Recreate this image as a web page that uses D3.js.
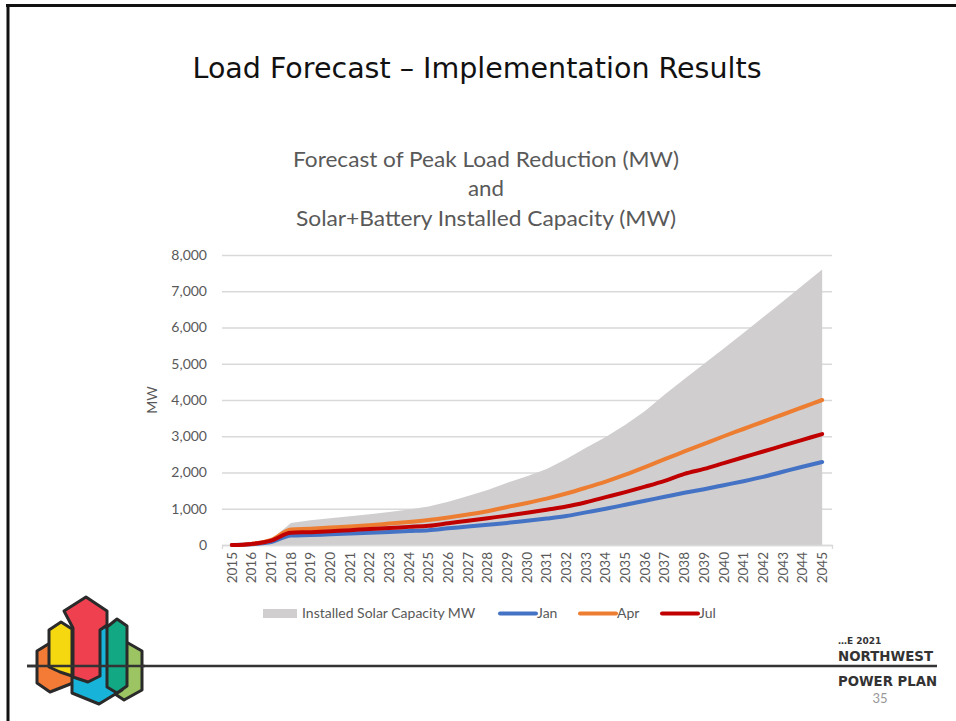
<!DOCTYPE html>
<html><head><meta charset="utf-8">
<script src="https://cdn.jsdelivr.net/npm/d3@7/dist/d3.min.js"></script>
<style>
html,body{margin:0;padding:0;background:#fff;}
svg{display:block;}
</style></head>
<body>
<svg id="c" width="956" height="721"></svg>
<script>
const years = d3.range(2015, 2046).map(String);
const solarCapacity = [0, 50, 150, 610, 680, 740, 790, 850, 910, 980, 1060, 1190, 1350, 1520, 1720, 1900, 2100, 2370, 2680, 2980, 3320, 3700, 4150, 4580, 5000, 5420, 5850, 6280, 6720, 7160, 7600];
const janValues = [0, 20, 80, 260, 275, 295, 315, 335, 360, 385, 410, 460, 510, 560, 610, 670, 730, 800, 900, 1000, 1110, 1220, 1330, 1440, 1540, 1650, 1760, 1880, 2020, 2160, 2290];
const aprValues = [0, 30, 140, 430, 450, 480, 510, 545, 590, 635, 690, 760, 840, 930, 1050, 1160, 1280, 1420, 1580, 1750, 1940, 2150, 2370, 2580, 2790, 3000, 3200, 3400, 3600, 3800, 4000];
const julValues = [0, 30, 120, 340, 355, 380, 410, 440, 470, 500, 530, 600, 670, 740, 810, 890, 975, 1060, 1180, 1320, 1460, 1610, 1770, 1960, 2100, 2260, 2420, 2580, 2740, 2900, 3060];
const yTicks = [0, 1000, 2000, 3000, 4000, 5000, 6000, 7000, 8000];
const seriesNames = ["Jan", "Apr", "Jul"];
const seriesColors = ["#4472c4", "#ed7d31", "#c00000"];
const slideTitle = "Load Forecast \u2013 Implementation Results";
const chartTitle = ["Forecast of Peak Load Reduction (MW)", "and", "Solar+Battery Installed Capacity (MW)"];

const svg = d3.select("#c");
const grey = "#595959";

// slide border
svg.append("line").attr("x1", 6).attr("x2", 956).attr("y1", 5.5).attr("y2", 5.5).attr("stroke", "#111").attr("stroke-width", 3);
svg.append("line").attr("x1", 8).attr("x2", 8).attr("y1", 4).attr("y2", 721).attr("stroke", "#111").attr("stroke-width", 3);

svg.append("text").attr("x", 477).attr("y", 78).attr("text-anchor", "middle")
  .attr("font-family", "DejaVu Sans").attr("font-size", 29).attr("fill", "#111")
  .attr("textLength", 569).attr("lengthAdjust", "spacingAndGlyphs").text(slideTitle);

const ctY = [167, 196, 226];
const ctW = [386, 36, 380];
chartTitle.forEach((t, i) => {
  svg.append("text").attr("x", 486).attr("y", ctY[i]).attr("text-anchor", "middle")
    .attr("font-family", "Lato, 'Open Sans', sans-serif").attr("font-size", 21).attr("fill", grey)
    .attr("textLength", ctW[i]).attr("lengthAdjust", "spacingAndGlyphs").text(t);
});

const x = d3.scaleBand().domain(years).range([222, 832]);
const y = d3.scaleLinear().domain([0, 8000]).range([545, 255]);
const cx = d => x(d) + x.bandwidth() / 2;

// gridlines
const yAxis = d3.axisLeft(y).tickValues(yTicks).tickFormat(d3.format(",")).tickSize(-(832 - 222)).tickPadding(15);
const ga = svg.append("g").attr("transform", "translate(222,0)").call(yAxis);
ga.select(".domain").remove();
ga.selectAll(".tick line").attr("stroke", "#d9d9d9").attr("stroke-width", 1.3);
ga.selectAll(".tick text").attr("fill", grey).attr("font-family", "Lato, sans-serif").attr("font-size", 14);

svg.append("text").attr("transform", "translate(157,400) rotate(-90)").attr("text-anchor", "middle")
  .attr("font-family", "Lato, sans-serif").attr("font-size", 14).attr("fill", grey).text("MW");

// area
const area = d3.area().x((d, i) => cx(years[i])).y0(y(0)).y1(d => y(d));
svg.append("path").datum(solarCapacity).attr("d", area).attr("fill", "#d0cece");

// x axis
const xAxis = d3.axisBottom(x).tickSize(4).tickPadding(4);
const gx = svg.append("g").attr("transform", "translate(0,545)").call(xAxis);
gx.select(".domain").attr("stroke", "#d9d9d9").attr("stroke-width", 1.3);
gx.selectAll(".tick line").remove();
gx.selectAll(".tick text").attr("fill", grey).attr("font-family", "Lato, sans-serif").attr("font-size", 13.5)
  .attr("transform", "rotate(-90)").attr("text-anchor", "end").attr("dy", "0.35em").attr("x", -7).attr("y", 0);

// lines
const line = d3.line().x((d, i) => cx(years[i])).y(d => y(d)).curve(d3.curveMonotoneX);
[janValues, aprValues, julValues].forEach((vals, i) => {
  svg.append("path").datum(vals).attr("d", line).attr("fill", "none")
    .attr("stroke", seriesColors[i]).attr("stroke-width", 4).attr("stroke-linecap", "round");
});

// legend
const lg = svg.append("g").attr("font-family", "Lato, sans-serif").attr("font-size", 14).attr("fill", grey);
lg.append("rect").attr("x", 263).attr("y", 609).attr("width", 34).attr("height", 9).attr("fill", "#d0cece");
lg.append("text").attr("x", 302).attr("y", 618).text("Installed Solar Capacity MW");
const lx = [500, 580, 662];
seriesNames.forEach((n, i) => {
  lg.append("line").attr("x1", lx[i]).attr("x2", lx[i] + 36).attr("y1", 613.5).attr("y2", 613.5)
    .attr("stroke", seriesColors[i]).attr("stroke-width", 4).attr("stroke-linecap", "round");
  lg.append("text").attr("x", lx[i] + 37).attr("y", 618).text(n);
});

// footer line
svg.append("line").attr("x1", 27).attr("x2", 937).attr("y1", 666).attr("y2", 666).attr("stroke", "#333").attr("stroke-width", 2.5);

// logo
const ol = "#2a2a2a";
const shapes = [
  {c: "#9cc462", p: [[115,650],[128,643],[142,651],[142,690],[124,700],[112,692]]},
  {c: "#f47b35", p: [[37,651],[50,643],[73,651],[73,683],[50,692],[37,683]]},
  {c: "#18b3d8", p: [[72,640],[98,627],[122,627],[122,690],[99,704],[72,693]]},
  {c: "#f5d810", p: [[49,630],[61,622],[72,629],[72,676],[60,672],[49,667]]},
  {c: "#ef4050", p: [[64,611],[86,597],[107,611],[107,625],[100,630],[100,676],[88,682],[73,677],[73,628]]},
  {c: "#12a884", p: [[107,627],[117,619],[127,626],[127,686],[117,693],[107,687]]}
];
shapes.forEach(s => {
  svg.append("polygon").attr("points", s.p.map(q => q.join(",")).join(" "))
    .attr("fill", s.c).attr("stroke", ol).attr("stroke-width", 3).attr("stroke-linejoin", "round");
});
svg.append("line").attr("x1", 27).attr("x2", 145).attr("y1", 666).attr("y2", 666).attr("stroke", "#333").attr("stroke-width", 2.5);

// footer text
const ft = svg.append("g").attr("font-family", "'DejaVu Sans', sans-serif").attr("fill", "#333").attr("font-weight", "bold");
ft.append("text").attr("x", 838).attr("y", 644).attr("font-size", 9).text("\u2026E 2021");
ft.append("text").attr("x", 838).attr("y", 661).attr("font-size", 14).attr("textLength", 95).attr("lengthAdjust", "spacingAndGlyphs").text("NORTHWEST");
ft.append("text").attr("x", 838).attr("y", 686).attr("font-size", 14).attr("textLength", 99).attr("lengthAdjust", "spacingAndGlyphs").text("POWER PLAN");
svg.append("text").attr("x", 880).attr("y", 703).attr("text-anchor", "middle").attr("font-family", "Lato, sans-serif")
  .attr("font-size", 13).attr("fill", "#999").text("35");
</script>
</body></html>
